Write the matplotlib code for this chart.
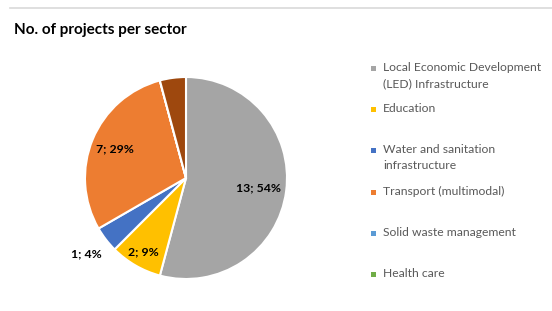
import numpy as np
import matplotlib
matplotlib.use("Agg")
import matplotlib.pyplot as plt
from matplotlib.patches import Rectangle

categories = ["Local Economic Development\n(LED) Infrastructure", "Education",
              "Water and sanitation\ninfrastructure", "Transport (multimodal)",
              "Solid waste management", "Health care", "Other"]
values = [13, 2, 1, 7, 0, 0, 1]
data_labels = ["13; 54%", "2; 9%", "1; 4%", "7; 29%", None, None, None]
colors = ["#A5A5A5", "#FFC000", "#4472C4", "#ED7D31", "#5B9BD5", "#70AD47", "#9E480E"]
legend_count = 6

W, H = 552, 311
fig = plt.figure(figsize=(W / 100, H / 100), dpi=100)
fig.patch.set_facecolor("white")
plt.rcParams['font.family'] = ['Lato', 'DejaVu Sans']

# top border line
fig.add_artist(plt.Line2D([10 / W, 1.0], [1 - 8 / H, 1 - 8 / H], color="#D9D9D9", lw=1.2))

fig.text(14 / W, 1 - 30 / H, "No. of projects per sector", fontsize=11, fontweight="bold",
         color="#000000", va="center", ha="left")

cx, cy, r = 186, 178, 101
ax = fig.add_axes([(cx - r) / W, (H - cy - r) / H, 2 * r / W, 2 * r / H])
wedges, _ = ax.pie(values, colors=colors, startangle=90, counterclock=False,
                   wedgeprops=dict(edgecolor="white", linewidth=1.5))
ax.set_xlim(-1, 1)
ax.set_ylim(-1, 1)
ax.set_aspect("equal")
ax.axis("off")

dists = [0.72, 0.84, 1.24, 0.76, 0, 0, 0]
for w, lab, d in zip(wedges, data_labels, dists):
    if lab is None:
        continue
    ang = np.deg2rad((w.theta1 + w.theta2) / 2)
    ax.text(d * np.cos(ang), d * np.sin(ang), lab, ha="center", va="center",
            fontsize=8.8, fontweight="bold", color="#000000", clip_on=False)

# legend
marker_y = [68, 109, 150, 192, 233, 274]
for i in range(legend_count):
    y = marker_y[i]
    fig.add_artist(Rectangle(((371) / W, 1 - (y + 2.5) / H), 5 / W, 5 / H,
                             transform=fig.transFigure, facecolor=colors[i], edgecolor="none"))
    fig.text(383 / W, 1 - (y - 6) / H, categories[i], fontsize=8.7, color="#595959",
             ha="left", va="top", linespacing=1.55)

fig.savefig("out.png", dpi=100)
